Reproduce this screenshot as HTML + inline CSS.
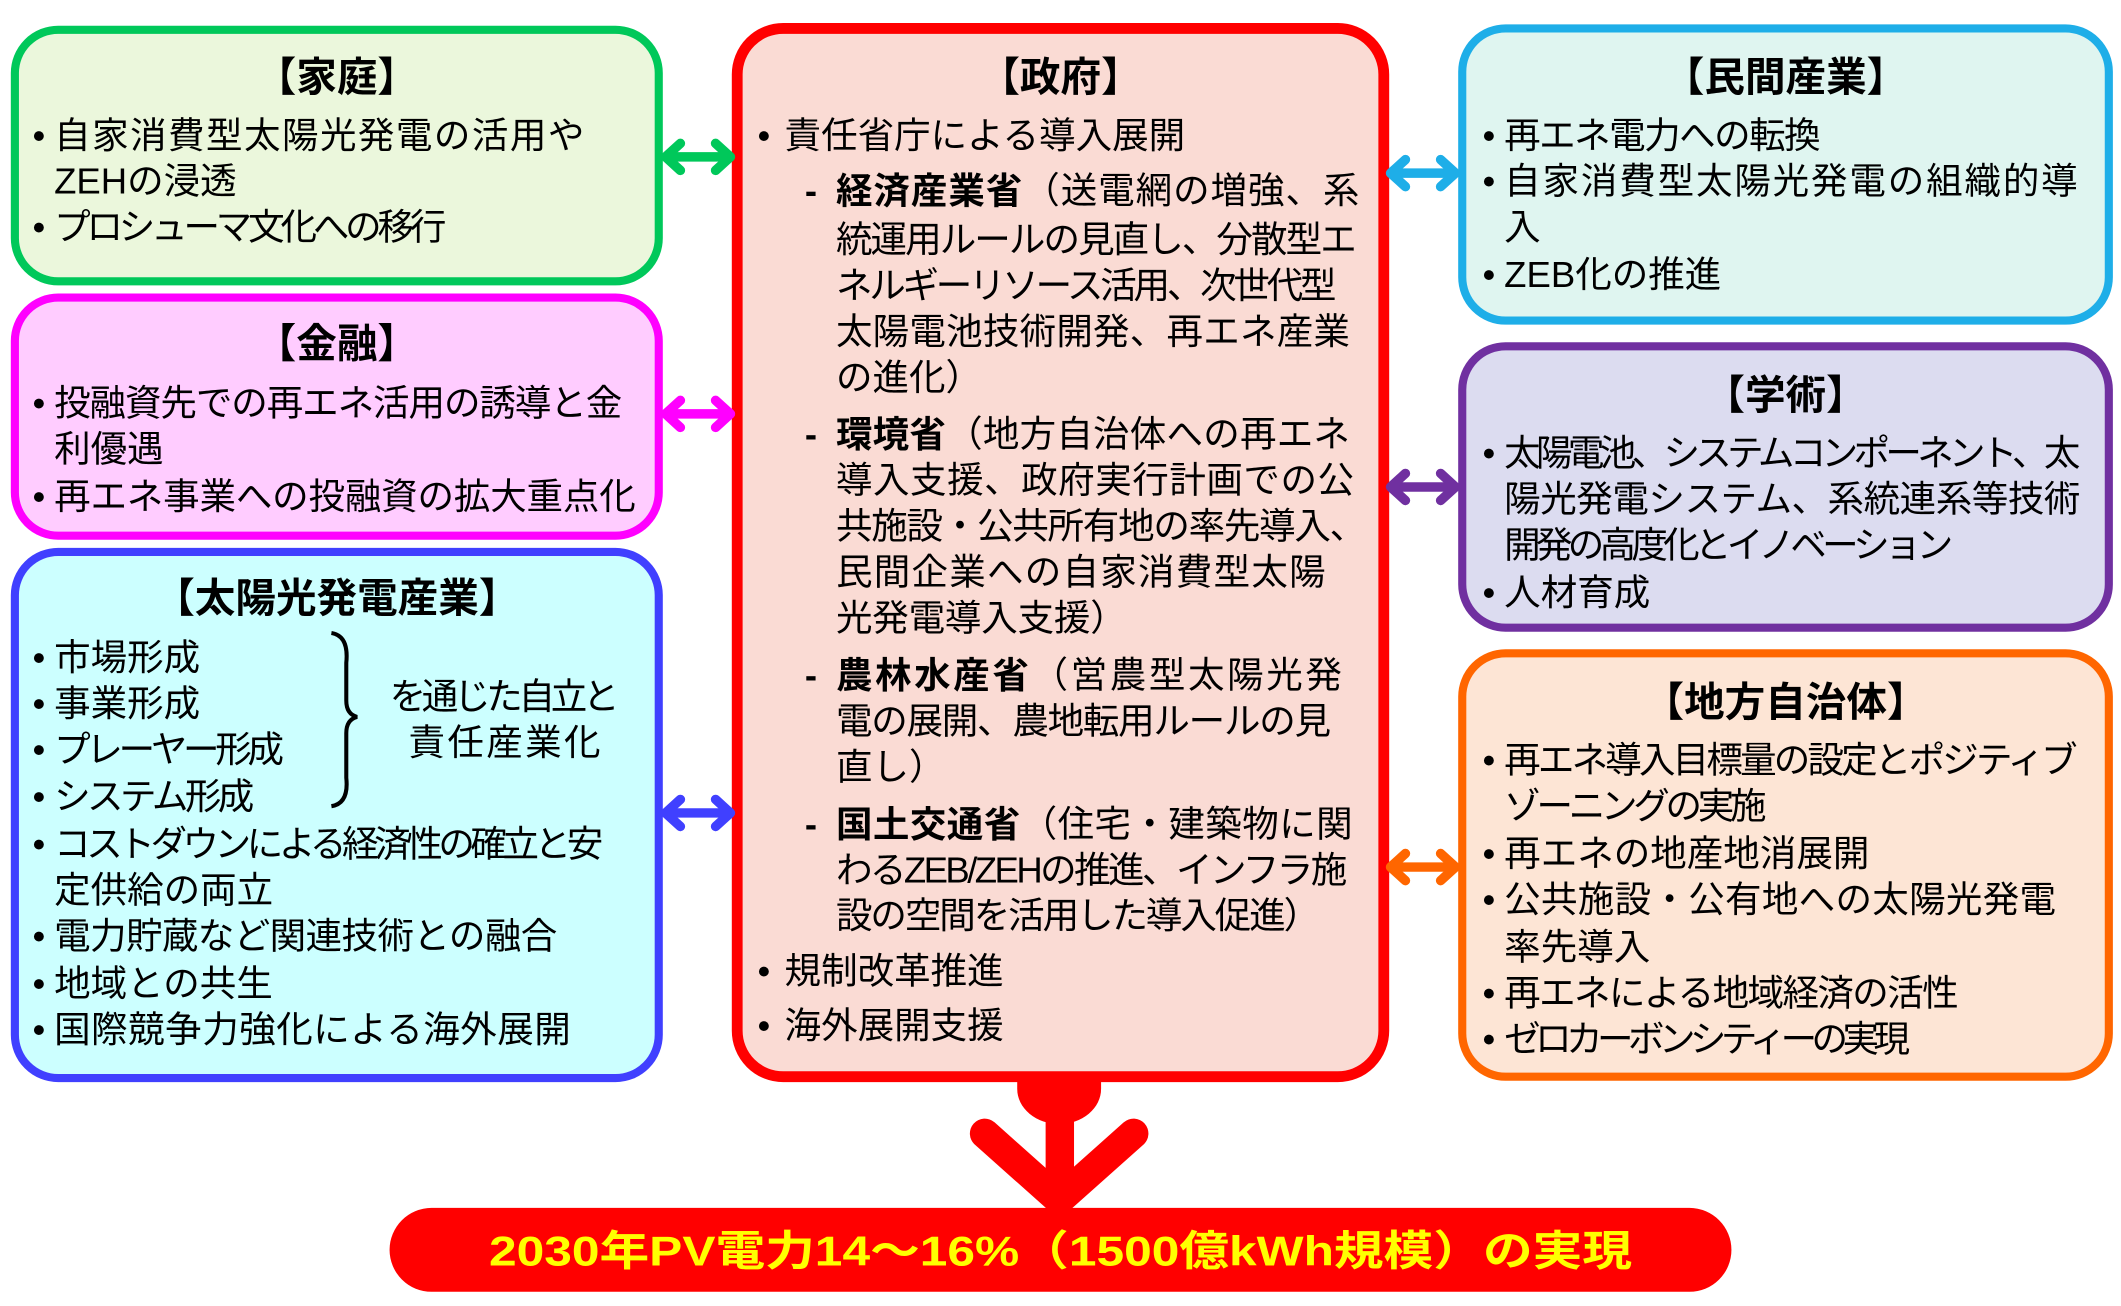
<!DOCTYPE html>
<html><head><meta charset="utf-8"><style>
html,body{margin:0;padding:0;background:#fff;}
svg{display:block;}
text{font-family:"Liberation Sans","Noto Sans CJK JP",sans-serif;font-size:27px;fill:#000;dominant-baseline:central;}
.t{font-weight:bold;font-size:30px;text-anchor:middle;}
.b{font-weight:bold;}
</style></head><body>
<svg width="2121" height="1306" viewBox="0 0 1568 965.5" preserveAspectRatio="none" xmlns="http://www.w3.org/2000/svg">
<rect x="11" y="22" width="476" height="186" rx="32" fill="#ebf7dc" stroke="#00c85a" stroke-width="6"/>
<rect x="11" y="220" width="476" height="176" rx="32" fill="#ffccff" stroke="#ff00ff" stroke-width="6"/>
<rect x="11" y="408" width="476" height="389" rx="32" fill="#ccffff" stroke="#4040ff" stroke-width="6"/>
<rect x="545" y="21" width="478" height="775" rx="34" fill="#fadbd4" stroke="#ff0000" stroke-width="8"/>
<rect x="1081" y="21" width="478" height="216" rx="32" fill="#dff5f0" stroke="#1eaee8" stroke-width="6"/>
<rect x="1081" y="256" width="478" height="208" rx="32" fill="#dcdcf0" stroke="#7030a0" stroke-width="6"/>
<rect x="1081" y="483" width="478" height="313" rx="32" fill="#fde5d5" stroke="#ff6600" stroke-width="6"/>

<g stroke-linecap="round" stroke-linejoin="round" fill="none" stroke-width="7">
<g stroke="#00c85a"><line x1="494" y1="116" x2="538" y2="116"/><polyline points="503,106 492,116 503,126"/><polyline points="529,106 540,116 529,126"/></g>
<g stroke="#ff00ff"><line x1="494" y1="306" x2="538" y2="306"/><polyline points="503,296 492,306 503,316"/><polyline points="529,296 540,306 529,316"/></g>
<g stroke="#4040ff"><line x1="494" y1="601" x2="538" y2="601"/><polyline points="503,591 492,601 503,611"/><polyline points="529,591 540,601 529,611"/></g>
<g stroke="#1eaee8"><line x1="1030" y1="128" x2="1074" y2="128"/><polyline points="1039,118 1028,128 1039,138"/><polyline points="1065,118 1076,128 1065,138"/></g>
<g stroke="#7030a0"><line x1="1030" y1="360" x2="1074" y2="360"/><polyline points="1039,350 1028,360 1039,370"/><polyline points="1065,350 1076,360 1065,370"/></g>
<g stroke="#ff6600"><line x1="1030" y1="641" x2="1074" y2="641"/><polyline points="1039,631 1028,641 1039,651"/><polyline points="1065,631 1076,641 1065,651"/></g>
</g>

<path d="M752,797 L814,797 L814,805 A31,26 0 0 1 752,805 Z" fill="#ff0000"/>
<rect x="773" y="820" width="21" height="60" fill="#ff0000"/>
<polyline points="728,838 783,887 838,838" fill="none" stroke="#ff0000" stroke-width="22" stroke-linecap="round" stroke-linejoin="miter"/>
<rect x="288" y="893" width="992" height="62" rx="31" fill="#ff0000"/>
<text x="784" y="925" class="b" style="font-size:31px;fill:#ffff00;text-anchor:middle" textLength="845" lengthAdjust="spacingAndGlyphs">2030年PV電力14～16%（1500億kWh規模）の実現</text>

<text class="t" x="249" y="57">【家庭】</text>
<text x="24" y="100">•</text><text x="40" y="100" textLength="392">自家消費型太陽光発電の活用や</text>
<text x="40" y="134">ZEHの浸透</text>
<text x="24" y="168">•</text><text x="40" y="168" textLength="290">プロシューマ文化への移行</text>

<text class="t" x="249" y="254">【金融】</text>
<text x="24" y="298">•</text><text x="40" y="298" textLength="420">投融資先での再エネ活用の誘導と金</text>
<text x="40" y="332">利優遇</text>
<text x="24" y="367">•</text><text x="40" y="367" textLength="430">再エネ事業への投融資の拡大重点化</text>

<text class="t" x="249" y="442">【太陽光発電産業】</text>
<text x="24" y="486">•</text><text x="40" y="486">市場形成</text>
<text x="24" y="520">•</text><text x="40" y="520">事業形成</text>
<text x="24" y="554">•</text><text x="40" y="554" textLength="170">プレーヤー形成</text>
<text x="24" y="589">•</text><text x="40" y="589" textLength="148">システム形成</text>
<path d="M245,468 Q258,470 256,490 L256,518 Q256,528 264,530 Q256,532 256,542 L256,575 Q258,594 245,596" fill="none" stroke="#000" stroke-width="3"/>
<text x="288" y="515" textLength="170">を通じた自立と</text>
<text x="302" y="549" textLength="142">責任産業化</text>
<text x="24" y="624">•</text><text x="40" y="624" textLength="406">コストダウンによる経済性の確立と安</text>
<text x="40" y="658">定供給の両立</text>
<text x="24" y="692">•</text><text x="40" y="692" textLength="372">電力貯蔵など関連技術との融合</text>
<text x="24" y="727">•</text><text x="40" y="727">地域との共生</text>
<text x="24" y="761">•</text><text x="40" y="761" textLength="382">国際競争力強化による海外展開</text>

<text class="t" x="784" y="57">【政府】</text>
<text x="560" y="100">•</text><text x="580" y="100">責任省庁による導入展開</text>
<text x="595" y="141" class="b">-</text>
<text x="618" y="141" textLength="387"><tspan class="b">経済産業省</tspan>（送電網の増強、系</text>
<text x="618" y="177" textLength="385">統運用ルールの見直し、分散型エ</text>
<text x="618" y="211" textLength="370">ネルギーリソース活用、次世代型</text>
<text x="618" y="245" textLength="380">太陽電池技術開発、再エネ産業</text>
<text x="618" y="279">の進化）</text>
<text x="595" y="321" class="b">-</text>
<text x="618" y="321" textLength="380"><tspan class="b">環境省</tspan>（地方自治体への再エネ</text>
<text x="618" y="355" textLength="383">導入支援、政府実行計画での公</text>
<text x="618" y="389" textLength="392">共施設・公共所有地の率先導入、</text>
<text x="618" y="423" textLength="362">民間企業への自家消費型太陽</text>
<text x="618" y="457" textLength="215">光発電導入支援）</text>
<text x="595" y="499" class="b">-</text>
<text x="618" y="499" textLength="374"><tspan class="b">農林水産省</tspan>（営農型太陽光発</text>
<text x="618" y="533" textLength="366">電の展開、農地転用ルールの見</text>
<text x="618" y="567">直し）</text>
<text x="595" y="609" class="b">-</text>
<text x="618" y="609" textLength="382"><tspan class="b">国土交通省</tspan>（住宅・建築物に関</text>
<text x="618" y="643" textLength="378">わるZEB/ZEHの推進、インフラ施</text>
<text x="618" y="677" textLength="358">設の空間を活用した導入促進）</text>
<text x="560" y="718">•</text><text x="580" y="718">規制改革推進</text>
<text x="560" y="758">•</text><text x="580" y="758">海外展開支援</text>

<text class="t" x="1320" y="57">【民間産業】</text>
<text x="1096" y="100">•</text><text x="1112" y="100" textLength="234">再エネ電力への転換</text>
<text x="1096" y="134">•</text><text x="1112" y="134" textLength="424">自家消費型太陽光発電の組織的導</text>
<text x="1112" y="168">入</text>
<text x="1096" y="203">•</text><text x="1112" y="203">ZEB化の推進</text>

<text class="t" x="1320" y="292">【学術】</text>
<text x="1096" y="335">•</text><text x="1112" y="335" textLength="426">太陽電池、システムコンポーネント、太</text>
<text x="1112" y="369" textLength="426">陽光発電システム、系統連系等技術</text>
<text x="1112" y="403" textLength="332">開発の高度化とイノベーション</text>
<text x="1096" y="438">•</text><text x="1112" y="438">人材育成</text>

<text class="t" x="1320" y="519">【地方自治体】</text>
<text x="1096" y="562">•</text><text x="1112" y="562" textLength="424">再エネ導入目標量の設定とポジティブ</text>
<text x="1112" y="596" textLength="194">ゾーニングの実施</text>
<text x="1096" y="631">•</text><text x="1112" y="631" textLength="270">再エネの地産地消展開</text>
<text x="1096" y="665">•</text><text x="1112" y="665" textLength="408">公共施設・公有地への太陽光発電</text>
<text x="1112" y="700">率先導入</text>
<text x="1096" y="734">•</text><text x="1112" y="734" textLength="336">再エネによる地域経済の活性</text>
<text x="1096" y="768">•</text><text x="1112" y="768" textLength="300">ゼロカーボンシティーの実現</text>
</svg>
</body></html>
